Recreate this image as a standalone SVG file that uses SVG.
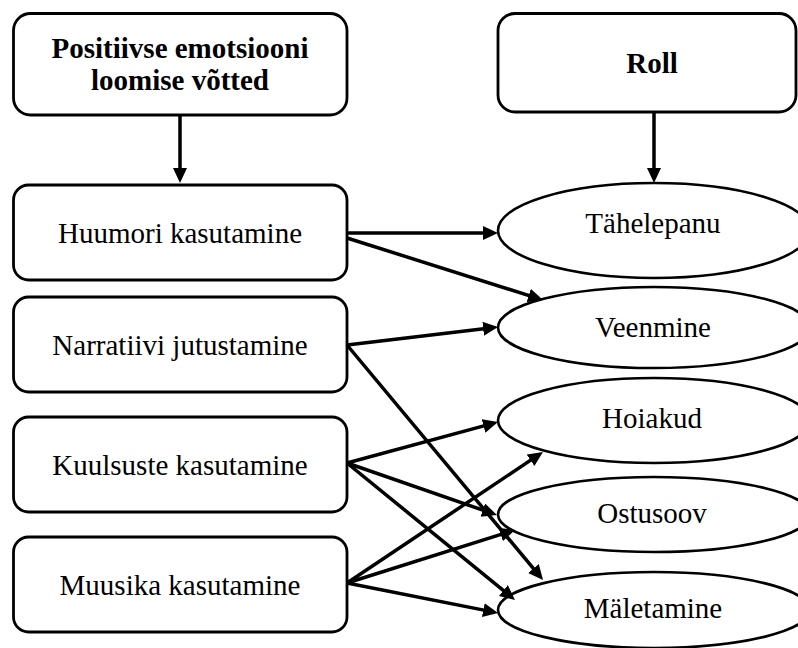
<svg xmlns="http://www.w3.org/2000/svg" width="798" height="648" viewBox="0 0 798 648">
  <style>
    .box { fill: #ffffff; stroke: #000000; stroke-width: 2.8; }
    .oval { fill: #ffffff; stroke: #000000; stroke-width: 2.6; }
    .label { font-family: 'Liberation Serif', 'DejaVu Serif', serif; font-size: 29px; fill: #000000; text-anchor: middle; }
    .head { font-weight: bold; }
    .edge { fill: none; stroke: #000000; stroke-width: 3.5; marker-end: url(#arrow); }
  </style>
  <defs>
    <marker id="arrow" markerUnits="userSpaceOnUse" markerWidth="16" markerHeight="15" refX="7" refY="7" orient="auto">
      <path d="M0,0 L15,7 L0,14 Z" fill="#000000"/>
    </marker>
  </defs>
  <rect width="798" height="648" fill="#ffffff"/>

  <!-- header boxes -->
  <g id="techniques">
    <rect class="box" x="13.5" y="13.5" width="333.5" height="101.5" rx="17"/>
    <text class="label head" x="180" y="58" font-family="Liberation Serif, serif">Positiivse emotsiooni</text>
    <text class="label head" x="180" y="90" font-family="Liberation Serif, serif">loomise võtted</text>
  </g>
  <g id="role">
    <rect class="box" x="498" y="13.5" width="298" height="98.5" rx="17"/>
    <text class="label head" x="652" y="73">Roll</text>
  </g>

  <!-- technique boxes -->
  <g id="humour">
    <rect class="box" x="13.5" y="185" width="333.5" height="95" rx="15"/>
    <text class="label" x="180" y="243">Huumori kasutamine</text>
  </g>
  <g id="narrative">
    <rect class="box" x="13.5" y="297" width="333.5" height="95" rx="15"/>
    <text class="label" x="180" y="355">Narratiivi jutustamine</text>
  </g>
  <g id="celebrities">
    <rect class="box" x="13.5" y="417" width="333.5" height="95" rx="15"/>
    <text class="label" x="180" y="475">Kuulsuste kasutamine</text>
  </g>
  <g id="music">
    <rect class="box" x="13.5" y="537" width="333.5" height="95" rx="15"/>
    <text class="label" x="180" y="595">Muusika kasutamine</text>
  </g>

  <!-- role ellipses -->
  <g id="attention">
    <ellipse class="oval" cx="654" cy="230.5" rx="156" ry="47.5"/>
    <text class="label" x="653" y="233">Tähelepanu</text>
  </g>
  <g id="persuasion">
    <ellipse class="oval" cx="654" cy="327.5" rx="156" ry="40.5"/>
    <text class="label" x="653" y="337">Veenmine</text>
  </g>
  <g id="attitudes">
    <ellipse class="oval" cx="654" cy="420.5" rx="156" ry="42.5"/>
    <text class="label" x="652" y="428">Hoiakud</text>
  </g>
  <g id="purchase">
    <ellipse class="oval" cx="654" cy="514.5" rx="156" ry="37.5"/>
    <text class="label" x="652" y="523">Ostusoov</text>
  </g>
  <g id="memory">
    <ellipse class="oval" cx="654" cy="610" rx="156" ry="38"/>
    <text class="label" x="653" y="618">Mäletamine</text>
  </g>

  <!-- connectors -->
  <g id="connectors">
    <line class="edge" x1="180" y1="115" x2="180" y2="175"/>
    <line class="edge" x1="654" y1="112" x2="654" y2="175"/>
    <line class="edge" x1="347" y1="233" x2="490" y2="233"/>
    <line class="edge" x1="347" y1="238" x2="535.4" y2="297.6"/>
    <line class="edge" x1="347" y1="345" x2="490.1" y2="327.9"/>
    <line class="edge" x1="347" y1="345" x2="537.9" y2="573.9"/>
    <line class="edge" x1="347" y1="463" x2="490.3" y2="424.1"/>
    <line class="edge" x1="347" y1="463" x2="489.4" y2="512.4"/>
    <line class="edge" x1="347" y1="463" x2="508.8" y2="594.9"/>
    <line class="edge" x1="347" y1="583" x2="536.3" y2="456.4"/>
    <line class="edge" x1="347" y1="583" x2="507.4" y2="532.4"/>
    <line class="edge" x1="347" y1="583" x2="490.2" y2="611.4"/>
  </g>
</svg>
